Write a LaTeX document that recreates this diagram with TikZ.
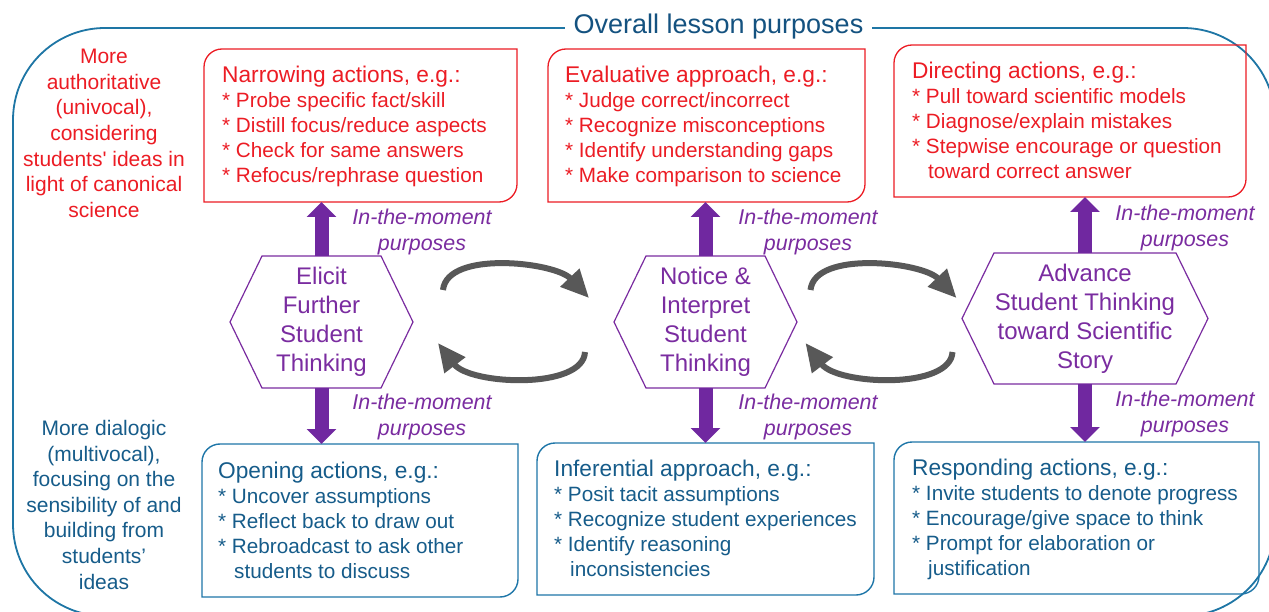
\documentclass[tikz,border=0pt]{standalone}
\usepackage{fontspec}
\setmainfont{Liberation Sans}
\usetikzlibrary{arrows.meta}

\definecolor{redc}{RGB}{236,28,36}
\definecolor{bluetext}{RGB}{22,92,138}
\definecolor{blueline}{RGB}{30,118,168}
\definecolor{framec}{RGB}{30,118,165}
\definecolor{titlec}{RGB}{20,82,128}
\definecolor{purp}{RGB}{112,40,160}
\definecolor{purptext}{RGB}{122,44,160}
\definecolor{greyc}{RGB}{88,88,88}

% box outline: rounded top-left and bottom-right corners, square elsewhere
\newcommand\diagbox[2]{\draw[#2] (#1.south west) -- ([yshift=-18pt]#1.north west)
  arc[start angle=180,end angle=90,radius=18pt] -- (#1.north east)
  -- ([yshift=18pt]#1.south east) arc[start angle=0,end angle=-90,radius=18pt] -- cycle;}
% flattened hexagon around a node
\newcommand\hexdraw[1]{\draw[hexline] (#1.west) -- ([xshift=32pt]#1.north west)
  -- ([xshift=-32pt]#1.north east) -- (#1.east) -- ([xshift=-32pt]#1.south east)
  -- ([xshift=32pt]#1.south west) -- cycle;}
% heading line of an action box
\newcommand\boxhead[1]{{\fontsize{22.7}{25}\selectfont #1}}

\tikzset{
  area/.style={inner sep=0pt, outer sep=0pt, anchor=north west},
  redbox/.style={draw=redc, line width=1.3pt},
  bluebox/.style={draw=blueline, line width=1.4pt},
  boxtext/.style={anchor=north west, inner sep=0pt, align=left, font=\fontsize{20.7}{25}\selectfont},
  side/.style={anchor=north, inner sep=0pt, align=center, font=\fontsize{21}{25.6}\selectfont},
  hex/.style={inner sep=0pt, outer sep=0pt, align=center, text=purptext, font=\fontsize{24}{29}\selectfont},
  hexline/.style={draw=purptext, line width=1.2pt},
  moment/.style={anchor=north, inner sep=0pt, align=center, text=purptext, font=\fontsize{21.4}{26}\selectfont\itshape},
  bigarrow/.style={purp, line width=14pt, -{Triangle[width=29pt,length=15pt]}},
  cyc/.style={greyc, line width=6pt, -{Triangle[width=25pt,length=28pt]}},
}

\begin{document}
\begin{tikzpicture}[x=1pt,y=1pt]
\clip (0,0) rectangle (1269,-612);
\fill[white] (0,0) rectangle (1269,-612);

% outer frame and its title
\draw[framec, line width=1.8pt, rounded corners=92pt] (13,-28) rectangle (1275,-616);
\node[fill=white, inner xsep=9pt, inner ysep=2pt, text=titlec, font=\fontsize{27}{30}\selectfont] (title) at (718.5,-27) {Overall lesson purposes};

% side descriptions
\node[side, text=redc] (auth) at (104,-49) {More\\authoritative\\(univocal),\\considering\\students\textquotesingle{} ideas in\\light of canonical\\science};
\node[side, text=bluetext] (dial) at (104,-420) {More dialogic\\(multivocal),\\focusing on the\\sensibility of and\\building from\\students’\\ideas};

% action boxes (top row: red, bottom row: blue)
\node[area, minimum width=313pt, minimum height=153pt] (nar) at (204,-49) {};
\node[area, minimum width=317pt, minimum height=153pt] (eva) at (548,-49) {};
\node[area, minimum width=352pt, minimum height=152pt] (dir) at (894,-45) {};
\node[area, minimum width=316pt, minimum height=153pt] (ope) at (202,-444) {};
\node[area, minimum width=337pt, minimum height=152pt] (inf) at (537,-443) {};
\node[area, minimum width=365pt, minimum height=152pt] (res) at (894,-442) {};
\diagbox{nar}{redbox}
\diagbox{eva}{redbox}
\diagbox{dir}{redbox}
\diagbox{ope}{bluebox}
\diagbox{inf}{bluebox}
\diagbox{res}{bluebox}

\node[boxtext, text=redc] (nar-t) at (222,-66) {\boxhead{Narrowing actions, e.g.:}\\* Probe specific fact/skill\\* Distill focus/reduce aspects\\* Check for same answers\\* Refocus/rephrase question};
\node[boxtext, text=redc] (eva-t) at (565,-66) {\boxhead{Evaluative approach, e.g.:}\\* Judge correct/incorrect\\* Recognize misconceptions\\* Identify understanding gaps\\* Make comparison to science};
\node[boxtext, text=redc] (dir-t) at (912,-62) {\boxhead{Directing actions, e.g.:}\\* Pull toward scientific models\\* Diagnose/explain mistakes\\* Stepwise encourage or question\\\hspace*{16pt}toward correct answer};
\node[boxtext, text=bluetext] (ope-t) at (218,-462) {\boxhead{Opening actions, e.g.:}\\* Uncover assumptions\\* Reflect back to draw out\\* Rebroadcast to ask other\\\hspace*{16pt}students to discuss};
\node[boxtext, text=bluetext] (inf-t) at (554,-460) {\boxhead{Inferential approach, e.g.:}\\* Posit tacit assumptions\\* Recognize student experiences\\* Identify reasoning\\\hspace*{16pt}inconsistencies};
\node[boxtext, text=bluetext] (res-t) at (912,-459) {\boxhead{Responding actions, e.g.:}\\* Invite students to denote progress\\* Encourage/give space to think\\* Prompt for elaboration or\\\hspace*{16pt}justification};

% the three hexagons
\node[hex, minimum width=183pt, minimum height=132pt] (eli) at (321.5,-322) {Elicit\\Further\\Student\\Thinking};
\node[hex, minimum width=183pt, minimum height=132pt] (not) at (705.5,-322) {Notice \&\\Interpret\\Student\\Thinking};
\node[hex, minimum width=246pt, minimum height=131pt] (adv) at (1085,-318.5) {Advance\\Student Thinking\\toward Scientific\\Story};
\hexdraw{eli}
\hexdraw{not}
\hexdraw{adv}

% in-the-moment purpose arrows
\draw[bigarrow] (eli.north) -- (eli.north |- nar.south);
\draw[bigarrow] (eli.south) -- (eli.south |- ope.north);
\draw[bigarrow] (not.north) -- (not.north |- eva.south);
\draw[bigarrow] (not.south) -- (not.south |- inf.north);
\draw[bigarrow] (adv.north) -- (adv.north |- dir.south);
\draw[bigarrow] (adv.south) -- (adv.south |- res.north);

\node[moment] (m1) at (422,-209) {In-the-moment\\purposes};
\node[moment] (m2) at (422,-394) {In-the-moment\\purposes};
\node[moment] (m3) at (808,-209) {In-the-moment\\purposes};
\node[moment] (m4) at (808,-394) {In-the-moment\\purposes};
\node[moment] (m5) at (1185,-205) {In-the-moment\\purposes};
\node[moment] (m6) at (1185,-391) {In-the-moment\\purposes};

% cycling arrows between the hexagons
\coordinate (a1s) at (443,-290);   \coordinate (a1e) at (589,-298);
\coordinate (a2s) at (585,-352);   \coordinate (a2e) at (438,-343);
\coordinate (a3s) at (810.5,-290); \coordinate (a3e) at (956.5,-298);
\coordinate (a4s) at (952.5,-352); \coordinate (a4e) at (805.5,-343);
\draw[cyc] (a1s) .. controls ([shift={(4,40)}]a1s) and ([shift={(-34,36)}]a1e) .. (a1e);
\draw[cyc] (a2s) .. controls ([shift={(-2,-38)}]a2s) and ([shift={(32,-42)}]a2e) .. (a2e);
\draw[cyc] (a3s) .. controls ([shift={(4,40)}]a3s) and ([shift={(-34,36)}]a3e) .. (a3e);
\draw[cyc] (a4s) .. controls ([shift={(-2,-38)}]a4s) and ([shift={(32,-42)}]a4e) .. (a4e);
\end{tikzpicture}
\end{document}
